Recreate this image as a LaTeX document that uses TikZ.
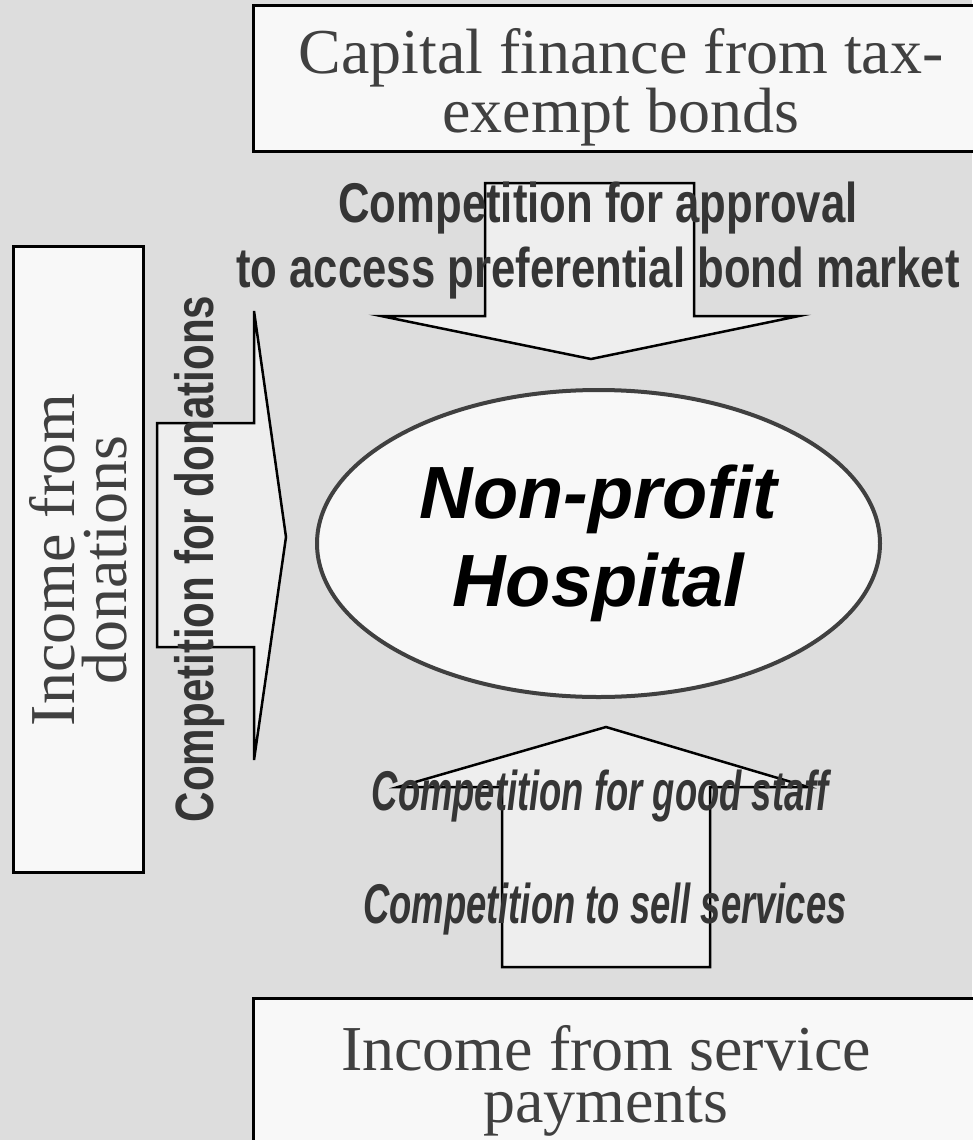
\documentclass[tikz,border=0pt]{standalone}
\usepackage{fontspec}
\setmainfont{Liberation Serif}
\newfontfamily\lblfont[FakeStretch=0.78]{Liberation Sans}
\newfontfamily\narrowfont[FakeStretch=0.65]{Liberation Sans}
\newfontfamily\hospfont{Liberation Sans}
\usetikzlibrary{shapes.geometric}
\definecolor{bggray}{HTML}{DDDDDD}
\definecolor{boxfill}{HTML}{F8F8F8}
\definecolor{arrowfill}{HTML}{EEEEEE}
\definecolor{inkgray}{HTML}{353535}
\definecolor{rimgray}{HTML}{404040}

\begin{document}
\begin{tikzpicture}[x=1pt,y=-1pt,
  srcbox/.style={draw=black,line width=3pt,fill=boxfill,inner sep=0pt},
  srctext/.style={text=rimgray,align=center,inner sep=0pt,font=\fontsize{64}{52}\selectfont},
  bigarrow/.style={draw=black,line width=2.5pt,fill=arrowfill,line join=miter},
  arrowlabel/.style={text=inkgray,align=center,inner sep=0pt,font=\lblfont\bfseries\fontsize{56}{65}\selectfont},
  stafflabel/.style={text=inkgray,inner sep=0pt,font=\narrowfont\bfseries\itshape\fontsize{56}{65}\selectfont}]
\useasboundingbox (0,0) rectangle (972,1140);
\fill[bggray] (0,0) rectangle (972,1140);
% source boxes
\node[srcbox,minimum width=740pt,minimum height=145pt] (bonds) at (623,78.5) {};
\node[srcbox,minimum width=130pt,minimum height=626pt] (gifts) at (78,559) {};
\node[srcbox,minimum width=740pt,minimum height=162pt] (fees) at (623,1079) {};
\node[srctext] (bondstext) at (621,87.5) {Capital finance from tax-\\exempt bonds};
\node[srctext,rotate=90] (giftstext) at (78,560) {Income from\\donations};
\node[srctext] (feestext) at (606,1081) {Income from service\\payments};
% hospital
\node[ellipse,draw=rimgray,line width=4pt,fill=boxfill,inner sep=0pt,
  minimum width=563pt,minimum height=307pt,
  font=\hospfont\bfseries\itshape\fontsize{74}{88}\selectfont,align=center]
  (hospital) at (598.5,543.5) {Non-profit\\Hospital};
% block arrows
\draw[bigarrow] (485,183) -- (694,183) -- (694,316) -- (799,316) -- (591,359)
  -- (381,316) -- (485,316) -- cycle;
\draw[bigarrow] (157,423) -- (254,423) -- (254,311) -- (286,537) -- (254,760)
  -- (254,647) -- (157,647) -- cycle;
\draw[bigarrow] (502,967) -- (502,787) -- (398,787) -- (606,727) -- (808,787)
  -- (710,787) -- (710,967) -- cycle;
% competition labels
\node[arrowlabel] (approval) at (598,241) {Competition for approval\\to access preferential bond market};
\node[arrowlabel,font=\lblfont\bfseries\fontsize{54}{65}\selectfont,rotate=90,anchor=base]
  (donations) at (213,559) {Competition for donations};
\node[stafflabel,anchor=base] (staff) at (600,810) {Competition for good staff};
\node[stafflabel,anchor=base] (services) at (605,923) {Competition to sell services};
\end{tikzpicture}
\end{document}
